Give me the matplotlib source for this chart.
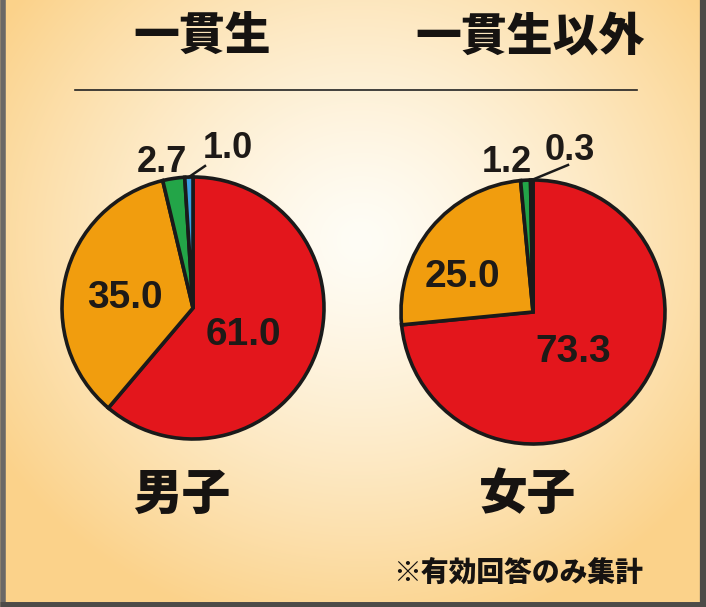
import numpy as np
import matplotlib
matplotlib.use("Agg")
import matplotlib.pyplot as plt

plt.rcParams["font.family"] = ["Noto Sans CJK JP", "DejaVu Sans"]

# data
groups = ["一貫生", "一貫生以外"]
sexes = ["男子", "女子"]
left_vals = [61.0, 35.0, 2.7, 1.0]
right_vals = [73.3, 25.0, 1.2, 0.3]
note = "※有効回答のみ集計"

COLORS = ["#e3161c", "#f19d0e", "#23a548", "#3a9ee2"]
W, H = 706, 607


def Y(y):
    # pixel row from top -> data y
    return H - y


fig = plt.figure(figsize=(W / 100, H / 100), dpi=100)
ax = fig.add_axes([0, 0, 1, 1])
ax.set_xlim(0, W)
ax.set_ylim(0, H)
ax.set_aspect("equal")
ax.axis("off")

# background: soft radial gradient, pale centre to peach edges
yy, xx = np.mgrid[0:H, 0:W]
d = np.sqrt(((xx - 360) / 430.0) ** 2 + ((yy - 240) / 400.0) ** 2)
t = np.clip(d, 0, 1) ** 1.3
c0 = np.array([255, 253, 246]) / 255
c1 = np.array([251, 210, 138]) / 255
img = c0[None, None, :] * (1 - t[..., None]) + c1[None, None, :] * t[..., None]
ax.imshow(img, extent=[0, W, 0, H], origin="upper", zorder=0)

# frame (left, right, bottom)
fc = "#4d4b48"
ax.plot([2.5, 2.5], [0, H], color="#6a6866", lw=4, zorder=5, solid_capstyle="butt")
ax.plot([W - 3, W - 3], [0, H], color=fc, lw=4.5, zorder=5, solid_capstyle="butt")
ax.plot([0, W], [2.5, 2.5], color=fc, lw=5, zorder=5, solid_capstyle="butt")

cjk = dict(fontweight="heavy", color="#161311")

# headings
ax.text(202, Y(37), groups[0], fontsize=33, ha="center", va="center", **cjk)
ax.text(530, Y(37), groups[1], fontsize=33, ha="center", va="center", **cjk)
ax.plot([75, 637], [Y(90), Y(90)], color="#222222", lw=1.2)

num_font = dict(family="Liberation Sans", fontweight="bold", color="#1e1a17")


def draw_pie(vals, cx, cy, r, inner_pos, small_pos, lead_to):
    wedges, _ = ax.pie(vals, colors=COLORS, startangle=90, counterclock=False,
                       center=(cx, Y(cy)), radius=r, frame=True,
                       wedgeprops=dict(edgecolor="#1a1a1a", linewidth=2.6))
    for w in wedges:
        w.set_zorder(2)
    # big labels inside
    for v, (px, py) in zip(vals[:2], inner_pos):
        ax.text(px, Y(py), f"{v:.1f}", fontsize=28, ha="center", va="center", zorder=4, **num_font)
    # small slice labels above
    (gx, gy), (bx, by) = small_pos
    ax.text(gx, Y(gy), f"{vals[2]:.1f}", fontsize=26, ha="center", va="center", zorder=4, **num_font)
    ax.text(bx, Y(by), f"{vals[3]:.1f}", fontsize=26, ha="center", va="center", zorder=4, **num_font)
    # leader for the tiniest slice
    wb = wedges[3]
    ang = np.deg2rad((wb.theta1 + wb.theta2) / 2)
    ex, ey = cx + r * np.cos(ang), Y(cy) + r * np.sin(ang)
    ax.plot([ex, lead_to[0]], [ey, Y(lead_to[1])], color="#1a1a1a", lw=1.8, zorder=4)


draw_pie(left_vals, 193, 308, 131, [(243, 335), (125, 298)], [(162, 162), (228, 148)], (205, 166))
draw_pie(right_vals, 533, 312, 132, [(573, 352), (462, 277)], [(507, 163), (570, 151)], (568, 165))

ax.set_xlim(0, W)
ax.set_ylim(0, H)
ax.axis("off")

# bottom labels
ax.text(182, Y(495), sexes[0], fontsize=35, ha="center", va="center", **cjk)
ax.text(528, Y(495), sexes[1], fontsize=35, ha="center", va="center", **cjk)
ax.text(518, Y(573), note, fontsize=20, ha="center", va="center", **cjk)

fig.savefig("out.png", dpi=100)
